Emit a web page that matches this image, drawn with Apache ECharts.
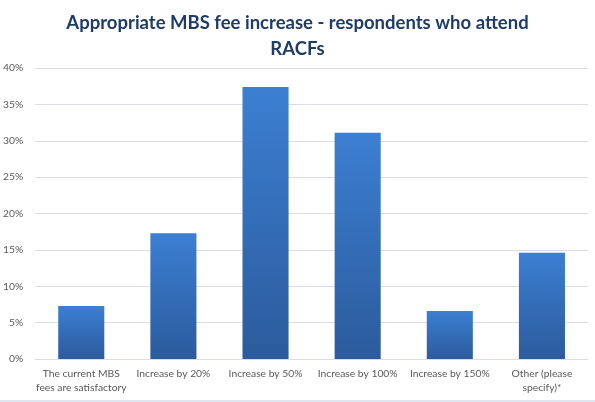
<!DOCTYPE html>
<html>
<head>
<meta charset="utf-8">
<script src="https://cdn.jsdelivr.net/npm/echarts@6/dist/echarts.min.js"></script>
<style>
  html, body { margin: 0; padding: 0; background: #fff; }
  #chart { width: 595px; height: 400px; border-bottom: 2px solid #dfe6f0; }
</style>
</head>
<body>
<div id="chart"></div>
<script>
const categories = [
  "The current MBS\nfees are satisfactory",
  "Increase by 20%",
  "Increase by 50%",
  "Increase by 100%",
  "Increase by 150%",
  "Other (please\nspecify)*"
];
const shares = [7.3, 17.3, 37.4, 31.1, 6.6, 14.6];
const titleText = "Appropriate MBS fee increase - respondents who attend\nRACFs";

const chart = echarts.init(document.getElementById("chart"), null, { renderer: "canvas" });
chart.setOption({
  animation: false,
  title: {
    text: titleText,
    left: "center",
    top: 5,
    textStyle: { fontFamily: "Lato", fontSize: 18.5, fontWeight: "bold", color: "#1f3c68", lineHeight: 26 }
  },
  grid: { left: 34, right: 7, top: 68, bottom: 41, containLabel: false },
  xAxis: {
    type: "category",
    data: categories,
    axisLine: { lineStyle: { color: "#d9dde6" } },
    axisTick: { show: false },
    axisLabel: { fontFamily: "Lato", fontSize: 10.3, color: "#595959", lineHeight: 14, margin: 8, interval: 0 }
  },
  yAxis: {
    type: "value",
    min: 0,
    max: 40,
    interval: 5,
    axisLine: { show: false },
    axisTick: { show: false },
    splitLine: { lineStyle: { color: "#d9dde6" } },
    axisLabel: { fontFamily: "Lato", fontSize: 10.3, color: "#595959", formatter: "{value}%", margin: 12 }
  },
  series: [{
    type: "bar",
    data: shares,
    barWidth: "50%",
    itemStyle: {
      color: new echarts.graphic.LinearGradient(0, 0, 0, 1, [
        { offset: 0, color: "#3c7fd2" },
        { offset: 1, color: "#2b5b9c" }
      ])
    }
  }]
});
</script>
</body>
</html>
